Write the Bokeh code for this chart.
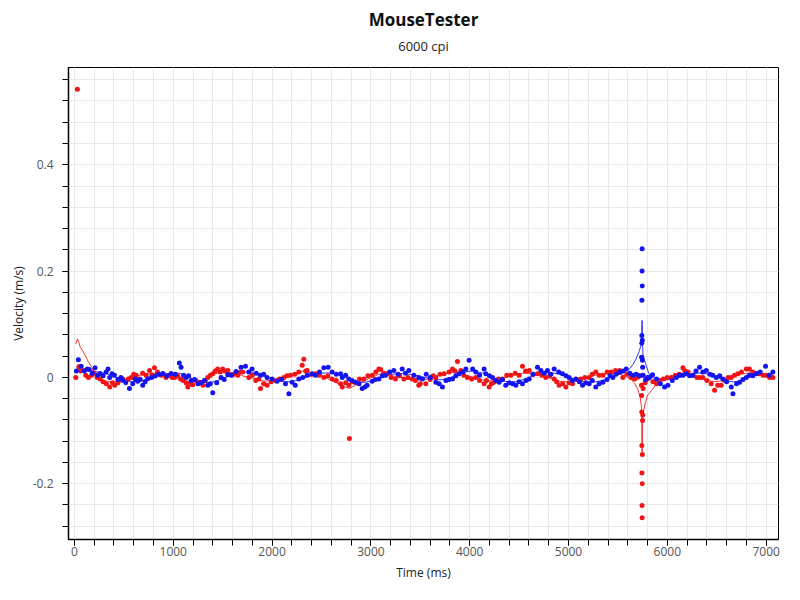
import numpy as np
from bokeh.plotting import figure
from bokeh.models import Range1d, FixedTicker, NumeralTickFormatter, LinearAxis
from bokeh.embed import file_html
from bokeh.resources import INLINE

# ---- data (time ms, velocity m/s) ----
blue_pts = [
    (20, 0.012), (40, 0.033), (68, 0.021), (100, 0.012), (130, 0.016), (150, 0.015), (180, 0.008),
    (209, 0.018), (235, 0.004), (260, 0.0075), (290, 0.003), (320, 0.01), (340, 0.016), (357, 0.0),
    (380, 0.007), (405, 0.004), (440, -0.004), (470, 0.0), (490, -0.006), (520, -0.01), (557, -0.021),
    (590, -0.012), (615, -0.003), (640, -0.0075), (665, -0.004), (691, -0.015), (715, -0.008),
    (742, -0.0025), (780, 0.0), (816, 0.0025), (855, 0.006), (894, 0.0075), (935, 0.003), (978, 0.0075),
    (1020, 0.006), (1062, 0.027), (1079, 0.019), (1105, 0.004), (1130, 0.0), (1155, 0.003),
    (1180, -0.006), (1215, -0.004), (1250, -0.012), (1281, -0.01), (1315, -0.006), (1349, -0.015),
    (1375, -0.012), (1400, -0.029), (1440, -0.01), (1484, 0.0), (1515, -0.004), (1551, 0.005),
    (1590, 0.004), (1636, 0.011), (1686, 0.019), (1731, 0.021), (1765, 0.01), (1798, 0.016),
    (1840, 0.008), (1883, 0.004), (1915, 0.006), (1950, 0.0), (2000, -0.003), (2051, -0.0075),
    (2095, -0.004), (2136, -0.012), (2170, -0.031), (2203, -0.009), (2235, -0.015), (2271, -0.003),
    (2310, 0.0), (2355, 0.004), (2406, 0.007), (2440, 0.004), (2480, 0.01), (2524, 0.018),
    (2568, 0.019), (2608, 0.01), (2650, 0.006), (2693, 0.007), (2710, 0.0), (2745, 0.004),
    (2777, -0.003), (2810, -0.006), (2844, -0.009), (2880, -0.012), (2912, -0.021), (2940, -0.018),
    (2962, -0.015), (3013, -0.0075), (3045, -0.004), (3081, -0.003), (3115, 0.003), (3148, 0.004),
    (3190, 0.01), (3232, 0.013), (3275, 0.006), (3317, 0.016), (3350, 0.008), (3384, 0.013),
    (3435, 0.004), (3485, 0.0), (3522, -0.003), (3560, 0.006), (3600, 0.0), (3657, -0.009),
    (3690, -0.012), (3724, -0.018), (3760, -0.006), (3790, -0.004), (3826, -0.003), (3860, 0.003),
    (3893, 0.007), (3930, 0.01), (3961, 0.016), (3994, 0.032), (4030, 0.016), (4062, 0.01),
    (4100, 0.004), (4146, 0.016), (4163, 0.007), (4200, 0.003), (4231, 0.0), (4265, -0.006),
    (4298, -0.009), (4330, -0.004), (4365, -0.015), (4400, -0.01), (4435, -0.012), (4467, -0.015),
    (4500, -0.008), (4534, -0.012), (4570, -0.006), (4602, -0.003), (4640, 0.006), (4686, 0.019),
    (4720, 0.013), (4755, 0.008), (4787, 0.013), (4820, 0.006), (4855, 0.016), (4900, 0.01),
    (4939, 0.007), (4975, 0.003), (5006, 0.0), (5040, -0.006), (5074, -0.003), (5110, -0.008),
    (5142, -0.015), (5175, -0.01), (5209, -0.012), (5240, -0.006), (5276, -0.018), (5310, -0.012),
    (5348, -0.009), (5390, -0.004), (5420, 0.003), (5449, 0.0), (5480, 0.006), (5516, 0.01),
    (5550, 0.012), (5584, 0.016), (5620, 0.008), (5651, 0.004), (5685, 0.006), (5715, 0.003),
    (5740, 0.038), (5741, 0.064), (5742, 0.079), (5743, 0.145), (5744, 0.2), (5745, 0.242),
    (5746, 0.172), (5747, 0.07), (5748, 0.032), (5750, 0.019), (5755, 0.004),
    (5780, -0.004), (5800, 0.0), (5820, 0.0), (5850, 0.005), (5890, -0.003), (5930, -0.012),
    (5972, -0.018), (6006, -0.015), (6050, -0.006), (6090, 0.0), (6125, 0.004), (6158, 0.004),
    (6191, 0.007), (6225, 0.003), (6259, 0.004), (6290, 0.012), (6326, 0.019), (6360, 0.01),
    (6394, 0.013), (6430, 0.006), (6460, 0.004), (6495, 0.0), (6530, 0.003), (6563, -0.003),
    (6600, -0.008), (6647, -0.018), (6664, -0.031), (6700, -0.012), (6731, -0.009), (6765, -0.004),
    (6799, 0.0), (6830, 0.004), (6865, 0.003), (6900, 0.007), (6940, 0.01), (6994, 0.021),
    (7030, 0.004), (7068, 0.01),
]

red_pts = [
    (14, 0.0), (30, 0.542), (45, 0.02), (60, 0.012), (90, 0.013), (115, 0.004), (141, 0.0),
    (175, 0.004), (200, 0.008), (230, 0.0), (260, -0.003), (290, -0.008), (323, -0.012),
    (357, -0.018), (385, -0.01), (408, -0.015), (440, -0.01), (465, -0.004), (490, -0.003),
    (520, -0.008), (545, -0.003), (574, 0.0), (600, 0.006), (625, 0.004), (658, -0.003),
    (690, 0.008), (725, 0.004), (760, 0.013), (785, 0.005), (810, 0.018), (840, 0.01), (877, 0.004),
    (900, 0.006), (927, 0.0), (960, 0.003), (990, 0.0), (1012, 0.0), (1045, 0.003), (1075, -0.003),
    (1100, -0.006), (1130, -0.01), (1147, -0.018), (1175, -0.012), (1197, -0.014), (1230, -0.006),
    (1265, -0.009), (1300, -0.015), (1325, -0.006), (1349, 0.0), (1375, 0.004), (1400, 0.007),
    (1425, 0.012), (1450, 0.016), (1475, 0.01), (1501, 0.016), (1525, 0.012), (1551, 0.013),
    (1580, 0.005), (1602, 0.005), (1630, 0.008), (1653, 0.004), (1680, 0.01), (1703, 0.01),
    (1765, 0.0), (1800, 0.004), (1835, -0.006), (1866, -0.003), (1883, -0.021), (1915, -0.012),
    (1950, -0.015), (1990, -0.008), (2035, -0.006), (2075, -0.003), (2119, 0.0), (2150, 0.003),
    (2186, 0.004), (2230, 0.006), (2271, 0.01), (2305, 0.023), (2321, 0.034), (2340, 0.012),
    (2355, 0.013), (2400, 0.006), (2440, 0.007), (2480, 0.004), (2524, 0.0), (2565, 0.003),
    (2608, -0.003), (2650, -0.006), (2693, -0.012), (2710, -0.018), (2745, -0.01), (2777, -0.015),
    (2783, -0.115), (2810, -0.008), (2844, -0.009), (2885, -0.003), (2929, -0.003), (2970, 0.003),
    (3013, 0.004), (3050, 0.01), (3081, 0.016), (3100, 0.015), (3130, 0.008), (3165, 0.007),
    (3205, 0.0), (3249, -0.003), (3290, 0.003), (3334, -0.003), (3375, 0.0), (3418, -0.003),
    (3450, -0.006), (3485, -0.015), (3500, -0.012), (3556, -0.012), (3600, -0.004), (3630, 0.003),
    (3657, 0.0), (3700, 0.006), (3741, 0.007), (3790, 0.01), (3826, 0.016), (3850, 0.012),
    (3876, 0.030), (3910, 0.013), (3940, 0.004), (3977, 0.0), (4020, -0.003), (4062, 0.0),
    (4100, -0.006), (4146, -0.012), (4170, -0.006), (4197, -0.018), (4220, -0.012), (4247, -0.009),
    (4290, -0.003), (4332, -0.003), (4375, 0.004), (4416, 0.004), (4460, 0.008), (4500, 0.004),
    (4534, 0.021), (4565, 0.012), (4602, 0.013), (4645, 0.006), (4686, 0.007), (4730, 0.004),
    (4770, 0.0), (4810, 0.003), (4855, -0.003), (4880, -0.008), (4905, -0.015), (4940, -0.012),
    (4973, -0.018), (5005, -0.01), (5040, -0.012), (5085, -0.004), (5125, -0.003), (5165, 0.0),
    (5209, 0.0), (5240, 0.006), (5276, 0.01), (5310, 0.004), (5348, 0.004), (5390, 0.01),
    (5432, 0.01), (5475, 0.013), (5516, 0.013), (5550, 0.0), (5590, 0.006), (5630, 0.0),
    (5668, -0.003), (5700, 0.0), (5725, 0.003),
    (5738, -0.015), (5740, -0.034), (5741, -0.065), (5742, -0.128), (5743, -0.18), (5744, -0.241),
    (5745, -0.264), (5746, -0.2), (5747, -0.145), (5749, -0.081), (5751, -0.071), (5755, -0.021),
    (5775, -0.01), (5800, -0.003), (5854, -0.008), (5890, -0.012), (5921, -0.006), (5960, -0.003),
    (6000, 0.0), (6040, 0.0), (6080, 0.004), (6120, 0.006), (6158, 0.018), (6175, 0.013),
    (6210, 0.01), (6259, 0.004), (6300, 0.0), (6330, 0.0), (6360, 0.0), (6400, -0.006),
    (6444, -0.012), (6478, -0.024), (6510, -0.015), (6545, -0.015), (6580, -0.006), (6615, 0.0),
    (6647, 0.0), (6680, 0.004), (6714, 0.007), (6750, 0.01), (6799, 0.016), (6830, 0.016),
    (6865, 0.01), (6900, 0.008), (6934, 0.007), (6970, 0.004), (7000, 0.004), (7035, 0.0),
    (7068, 0.0),
]

x_major = [0, 1000, 2000, 3000, 4000, 5000, 6000, 7000]
y_major = [-0.2, 0.0, 0.2, 0.4]
title_text = "MouseTester"
subtitle_text = "6000 cpi"
x_label = "Time (ms)"
y_label = "Velocity (m/s)"

BLUE = "#1414f0"
RED = "#f01414"
FONT = "Open Sans"


def smooth(v, half=7):
    # triangular-weighted running mean of the plotted points
    v = np.asarray(v, dtype=float)
    k = np.concatenate([np.arange(1, half + 2), np.arange(half, 0, -1)]).astype(float)
    return np.convolve(v, k, mode="same") / k.sum()


bt, bv = (np.array(a) for a in zip(*blue_pts))
rt, rv = (np.array(a) for a in zip(*red_pts))

p = figure(width=784, height=584, output_backend="svg", toolbar_location=None,
           x_range=Range1d(-60, 7125), y_range=Range1d(-0.305, 0.583),
           min_border_left=68, min_border_right=6, min_border_top=67, min_border_bottom=45,
           title=title_text)

p.title.align = "center"
p.title.text_font = FONT
p.title.text_font_size = "17px"
p.title.text_font_style = "bold"
p.title.text_color = "#111111"
p.title.standoff = 5

xax = p.below[0]
yax = p.left[0]

# subtitle drawn as the label of a bare axis above the frame
sub_axis = LinearAxis(ticker=FixedTicker(ticks=[], minor_ticks=[]), axis_label=subtitle_text,
                      axis_line_color=None, major_tick_out=0, major_tick_in=0,
                      minor_tick_out=0, minor_tick_in=0, major_label_standoff=0,
                      major_label_text_font_size="0px", major_label_text_alpha=0,
                      axis_label_standoff=13, axis_label_text_font=FONT,
                      axis_label_text_font_size="13px", axis_label_text_font_style="normal",
                      axis_label_text_color="#222222")
p.add_layout(sub_axis, "above")

p.background_fill_color = "white"
p.border_fill_color = "white"
p.outline_line_color = "black"
p.outline_line_width = 1

xax.ticker = FixedTicker(ticks=x_major, minor_ticks=list(range(0, 7201, 200)))
yax.ticker = FixedTicker(ticks=y_major,
                         minor_ticks=[round(-0.28 + 0.04 * i, 2) for i in range(22)])
yax.formatter = NumeralTickFormatter(format="0.[0]")

for ax in (xax, yax):
    ax.axis_line_color = "black"
    ax.axis_line_width = 1.5
    ax.major_tick_line_color = "black"
    ax.minor_tick_line_color = "black"
    ax.major_tick_out = 6
    ax.major_tick_in = 0
    ax.minor_tick_out = 6
    ax.minor_tick_in = 0
    ax.major_label_text_font = FONT
    ax.major_label_text_font_size = "12px"
    ax.major_label_text_color = "#555555"
    ax.axis_label_text_font = FONT
    ax.axis_label_text_font_size = "12px"
    ax.axis_label_text_font_style = "normal"
    ax.axis_label_text_color = "#222222"

xax.axis_label = x_label
yax.axis_label = y_label
xax.major_label_standoff = 1
yax.major_label_standoff = 9
xax.axis_label_standoff = 5
yax.axis_label_standoff = 3

p.grid.grid_line_color = "#e9e9e9"
p.grid.minor_grid_line_color = "#e9e9e9"
p.grid.grid_line_width = 1
p.grid.minor_grid_line_width = 1

p.line(rt, smooth(rv), line_color=RED, line_width=1, line_alpha=0.85)
p.line(bt, smooth(bv), line_color=BLUE, line_width=1, line_alpha=0.85)
p.scatter(rt, rv, size=5, fill_color=RED, line_color=None)
p.scatter(bt, bv, size=5, fill_color=BLUE, line_color=None)

open("out.html", "w").write(file_html(p, INLINE))
